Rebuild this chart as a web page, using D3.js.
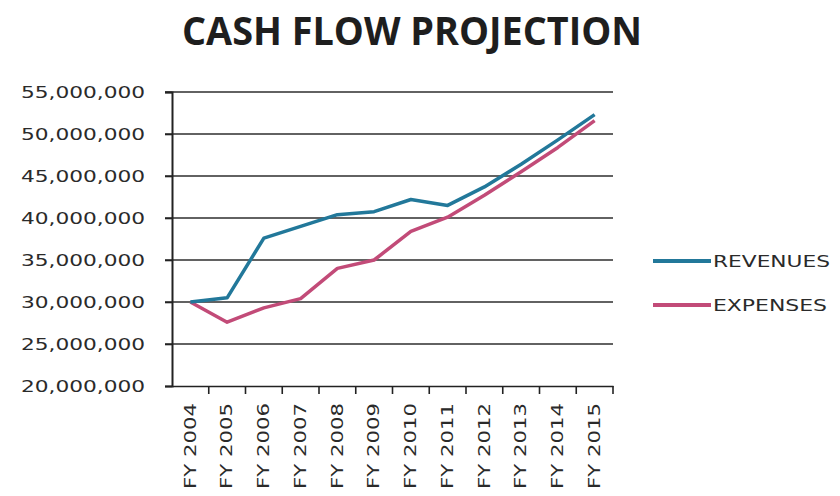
<!DOCTYPE html>
<meta charset="utf-8">
<style>
  body { margin: 0; background: #fff; }
  svg { display: block; }
  text { font-family: "DejaVu Sans", sans-serif; fill: #2a2a2a; }
</style>
<body>
<script src="https://d3js.org/d3.v7.min.js"></script>
<script>
  // chart data
  var years = ["FY 2004", "FY 2005", "FY 2006", "FY 2007", "FY 2008", "FY 2009",
               "FY 2010", "FY 2011", "FY 2012", "FY 2013", "FY 2014", "FY 2015"];
  var revenues = [30000000, 30500000, 37600000, 39000000, 40400000, 40750000,
                  42200000, 41500000, 43700000, 46400000, 49300000, 52300000];
  var expenses = [30000000, 27600000, 29300000, 30400000, 34000000, 35000000,
                  38400000, 40100000, 42700000, 45500000, 48400000, 51600000];
  var yTicks = [20000000, 25000000, 30000000, 35000000, 40000000, 45000000, 50000000, 55000000];
  var seriesNames = ["REVENUES", "EXPENSES"];
  var seriesColors = ["#22789a", "#c24b78"];

  var width = 840, height = 496;
  var plotLeft = 172, plotRight = 613, plotTop = 92, plotBottom = 386;

  var svg = d3.select("body").append("svg")
      .attr("width", width)
      .attr("height", height);

  var x = d3.scaleBand().domain(years).range([plotLeft, plotRight]);
  var y = d3.scaleLinear().domain([20000000, 55000000]).range([plotBottom, plotTop]);

  // title
  svg.append("text")
      .attr("x", 412)
      .attr("y", 45)
      .attr("text-anchor", "middle")
      .attr("textLength", 460)
      .attr("lengthAdjust", "spacingAndGlyphs")
      .style("font-family", "'Open Sans', sans-serif")
      .style("font-weight", "bold")
      .style("font-size", "40px")
      .style("fill", "#1e1e1e")
      .text("CASH FLOW PROJECTION");

  // horizontal gridlines
  svg.append("g").selectAll("line")
      .data(yTicks.slice(1))
      .enter().append("line")
      .attr("x1", plotLeft - 7)
      .attr("x2", plotRight)
      .attr("y1", function(d) { return y(d); })
      .attr("y2", function(d) { return y(d); })
      .attr("stroke", "#2e2e2e")
      .attr("stroke-width", 1.6);

  // y axis
  var yAxis = svg.append("g")
      .attr("transform", "translate(" + plotLeft + ",0)")
      .call(d3.axisLeft(y).tickValues(yTicks).tickSize(7).tickPadding(20)
            .tickFormat(d3.format(",")));
  yAxis.select(".domain").attr("stroke", "#222").attr("stroke-width", 2);
  yAxis.selectAll(".tick line").attr("stroke", "#222").attr("stroke-width", 1.6);
  yAxis.selectAll(".tick text")
      .attr("textLength", 124)
      .attr("lengthAdjust", "spacingAndGlyphs")
      .style("font-size", "16px")
      .style("font-family", "'DejaVu Sans', sans-serif")
      .attr("fill", "#2a2a2a");

  // x axis
  var xAxis = svg.append("g")
      .attr("transform", "translate(0," + plotBottom + ")")
      .call(d3.axisBottom(x).tickSize(0).tickPadding(0));
  xAxis.select(".domain").attr("stroke", "#222").attr("stroke-width", 1.6);
  xAxis.selectAll(".tick text")
      .attr("transform", "rotate(-90)")
      .attr("x", -17)
      .attr("y", 0)
      .attr("dy", "0.35em")
      .attr("text-anchor", "end")
      .attr("textLength", 86)
      .attr("lengthAdjust", "spacingAndGlyphs")
      .style("font-size", "15px")
      .style("font-family", "'DejaVu Sans', sans-serif")
      .attr("fill", "#2a2a2a");
  // tick marks at category boundaries
  xAxis.append("g").selectAll("line")
      .data(years)
      .enter().append("line")
      .attr("x1", function(d) { return x(d) + x.bandwidth(); })
      .attr("x2", function(d) { return x(d) + x.bandwidth(); })
      .attr("y1", 0)
      .attr("y2", 8)
      .attr("stroke", "#222")
      .attr("stroke-width", 1.6);

  // lines
  var line = d3.line()
      .x(function(d, i) { return x(years[i]) + x.bandwidth() / 2; })
      .y(function(d) { return y(d); });

  var series = [expenses, revenues];
  var seriesColor = [seriesColors[1], seriesColors[0]];
  series.forEach(function(s, k) {
    svg.append("path")
        .datum(s)
        .attr("fill", "none")
        .attr("stroke", seriesColor[k])
        .attr("stroke-width", 3.5)
        .attr("stroke-linejoin", "round")
        .attr("d", line);
  });

  // legend
  var legend = svg.append("g").selectAll("g")
      .data(seriesNames)
      .enter().append("g")
      .attr("transform", function(d, i) { return "translate(653," + (261 + i * 44) + ")"; });
  legend.append("line")
      .attr("x1", 0).attr("x2", 58)
      .attr("stroke", function(d, i) { return seriesColors[i]; })
      .attr("stroke-width", 4);
  legend.append("text")
      .attr("x", 60)
      .attr("dy", "0.36em")
      .attr("textLength", function(d, i) { return i === 0 ? 117 : 114; })
      .attr("lengthAdjust", "spacingAndGlyphs")
      .style("font-size", "16px")
      .text(function(d) { return d; });
</script>
